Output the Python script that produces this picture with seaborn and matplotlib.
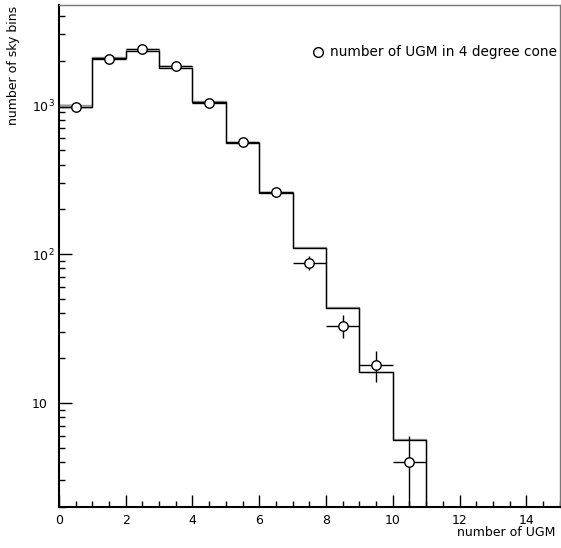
import matplotlib
matplotlib.use("Agg")
import matplotlib.pyplot as plt
import numpy as np
import pandas as pd
import seaborn as sb
from matplotlib.lines import Line2D
from matplotlib.ticker import FixedLocator, FuncFormatter, MultipleLocator

# bins of "number of UGM"
edges = [0, 1, 2, 3, 4, 5, 6, 7, 8, 9, 10, 11, 12]
centers = [0.5, 1.5, 2.5, 3.5, 4.5, 5.5, 6.5, 7.5, 8.5, 9.5, 10.5, 11.5]

# expected histograms (black and gray)
hist_black = [975, 2080, 2330, 1780, 1045, 557, 258, 110, 43.6, 16.1, 5.65, 0]
hist_gray = [1005, 2130, 2410, 1840, 1075, 566, 262, 111, 44.0, 16.2, 5.70, 0]

# observed points
obs_x = [0.5, 1.5, 2.5, 3.5, 4.5, 5.5, 6.5, 7.5, 8.5, 9.5, 10.5]
obs_y = [980, 2060, 2390, 1830, 1040, 565, 261, 87, 33, 18, 4]

df = pd.DataFrame({"x": centers, "black": hist_black, "gray": hist_gray})
obs = pd.DataFrame({"x": obs_x, "y": obs_y})

sb.set_theme(style="white")
plt.rcParams["font.family"] = ["DejaVu Sans"]
plt.rcParams["mathtext.default"] = "regular"
plt.rcParams["text.color"] = "black"

fig = plt.figure(figsize=(5.61, 5.48), dpi=100)
ax = fig.add_axes([0.105, 0.0754, 0.8927, 0.916])

sb.histplot(data=df, x="x", weights="gray", bins=edges, element="step",
            fill=False, color="#9a9a9a", linewidth=1.0, ax=ax)
sb.histplot(data=df, x="x", weights="black", bins=edges, element="step",
            fill=False, color="black", linewidth=1.0, ax=ax)

ax.errorbar(obs["x"], obs["y"], xerr=0.5, yerr=np.sqrt(obs["y"]), fmt="none",
            ecolor="black", elinewidth=1.0, capsize=0, zorder=3)
sb.scatterplot(data=obs, x="x", y="y", marker="o", s=46, facecolor="white",
               edgecolor="black", linewidth=1.0, zorder=4, ax=ax)

ax.set_yscale("log")
ax.set_xlim(0, 15)
ax.set_ylim(2, 4750)

ax.xaxis.set_major_locator(MultipleLocator(2))
ax.xaxis.set_minor_locator(MultipleLocator(0.5))
ax.yaxis.set_major_locator(FixedLocator([10, 100, 1000]))
ax.yaxis.set_minor_locator(FixedLocator(
    [v * d for d in (1, 10, 100, 1000) for v in range(2, 10) if 2 <= v * d <= 4750]))


def ylab(v, pos):
    if v == 10:
        return "10"
    return "$10^{%d}$" % int(round(np.log10(v)))


ax.yaxis.set_major_formatter(FuncFormatter(ylab))
ax.yaxis.set_minor_formatter(FuncFormatter(lambda v, p: ""))

ax.tick_params(axis="both", which="both", direction="in", colors="black",
               labelsize=9, top=False, right=False, left=True, bottom=True)
ax.tick_params(axis="x", which="major", length=9, width=1, pad=5)
ax.tick_params(axis="x", which="minor", length=4.5, width=1)
ax.tick_params(axis="y", which="major", length=9, width=1, pad=19.5)
ax.tick_params(axis="y", which="minor", length=4.5, width=1)
for lab in ax.get_yticklabels():
    lab.set_horizontalalignment("left")

for s in ["left", "bottom"]:
    ax.spines[s].set_color("black")
    ax.spines[s].set_linewidth(1.5)
for s in ["top", "right"]:
    ax.spines[s].set_color("#777777")
    ax.spines[s].set_linewidth(1.0)

ax.set_xlabel("")
ax.set_ylabel("")
fig.text(0.99, 0.016, "number of UGM", ha="right", va="bottom", fontsize=9)
fig.text(0.012, 0.99, "number of sky bins", ha="left", va="top",
         rotation=90, fontsize=9)

handle = Line2D([], [], marker="o", linestyle="none", markersize=7,
                markerfacecolor="white", markeredgecolor="black", markeredgewidth=1.0)
ax.legend([handle], ["number of UGM in 4 degree cone"], loc="center left",
          bbox_to_anchor=(0.487, 0.905), frameon=False, fontsize=9.8,
          handletextpad=0.3, handlelength=1.2, borderpad=0)

fig.savefig("out.png", dpi=100)
